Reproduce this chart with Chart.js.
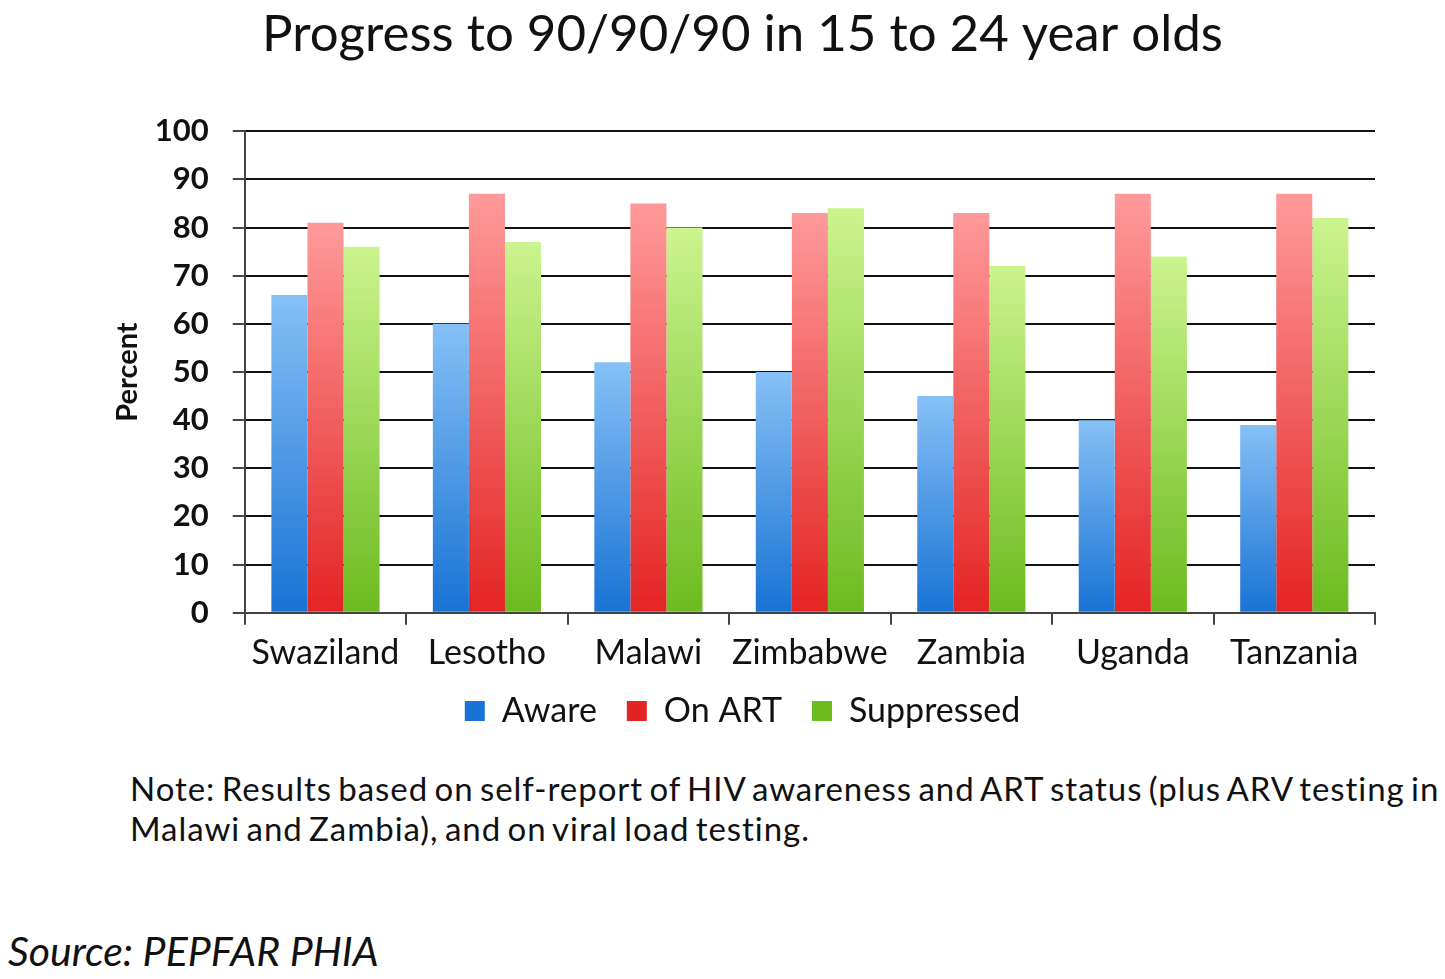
<!DOCTYPE html>
<html>
<head>
<meta charset="utf-8">
<script src="https://cdn.jsdelivr.net/npm/chart.js@4.4.1/dist/chart.umd.min.js"></script>
<style>
  html, body { margin: 0; padding: 0; background: #fff; }
  #wrap { position: relative; width: 1445px; height: 979px; overflow: hidden; font-family: Lato, "Open Sans", sans-serif; }
  #chartBox { position: absolute; left: 0; top: 0; width: 1445px; height: 755px; }
  #note { position: absolute; left: 130px; top: 768px; font-size: 33px; line-height: 40px; color: #111; white-space: nowrap; letter-spacing: 0.95px; word-spacing: -3px; }
  #source { position: absolute; left: 8px; top: 926px; font-size: 41px; font-style: italic; color: #111; }
</style>
</head>
<body>
<div id="wrap">
  <div id="chartBox"><canvas id="chart"></canvas></div>
  <div id="note">Note: Results based on self-report of HIV awareness and ART status (plus ARV testing in<br>Malawi and Zambia), and on viral load testing.</div>
  <div id="source">Source: PEPFAR PHIA</div>
</div>
<script>
document.addEventListener('DOMContentLoaded', function() {
    const countries = ['Swaziland', 'Lesotho', 'Malawi', 'Zimbabwe', 'Zambia', 'Uganda', 'Tanzania'];
    const aware = [66, 60, 52, 50, 45, 40, 39];
    const onArt = [81, 87, 85, 83, 83, 87, 87];
    const suppressed = [76, 77, 80, 84, 72, 74, 82];

    // colori gradiente (alto -> basso)
    const palette = {
        aware: ['#86c0f6', '#1873d4'],
        art: ['#ff9a9a', '#e32424'],
        supp: ['#cbf48e', '#6cbb20']
    };

    // gradiente per ogni barra, dalla cima della barra fino allo zero
    function gradient(colors) {
        return function(ctx) {
            const chart = ctx.chart;
            if (!chart.chartArea || ctx.type !== 'data') return colors[1];
            const y = chart.scales.y;
            const top = y.getPixelForValue(ctx.raw);
            const bottom = y.getPixelForValue(0);
            if (!isFinite(top) || bottom - top < 1) return colors[1];
            const g = chart.ctx.createLinearGradient(0, top, 0, bottom);
            g.addColorStop(0, colors[0]);
            g.addColorStop(1, colors[1]);
            return g;
        };
    }

    // sposta la legenda un po' più vicino alle etichette
    const legendShift = {
        id: 'legendShift',
        afterLayout(chart) {
            if (!chart.legend) return;
            chart.legend.top -= 17;
            chart.legend.bottom -= 17;
        }
    };

    const ctx = document.getElementById('chart');
    new Chart(ctx, {
        type: 'bar',
        data: {
            labels: countries,
            datasets: [
                { label: 'Aware', data: aware, backgroundColor: gradient(palette.aware) },
                { label: 'On ART', data: onArt, backgroundColor: gradient(palette.art) },
                { label: 'Suppressed', data: suppressed, backgroundColor: gradient(palette.supp) }
            ]
        },
        plugins: [legendShift],
        options: {
            responsive: true,
            maintainAspectRatio: false,
            animation: false,
            layout: { padding: { left: 110, right: 70, top: 4, bottom: 0 } },
            datasets: {
                bar: { categoryPercentage: 0.67, barPercentage: 1.0 }
            },
            plugins: {
                title: {
                    display: true,
                    text: 'Progress to 90/90/90 in 15 to 24 year olds',
                    color: '#111',
                    font: { family: 'Lato', size: 51, weight: 'normal' },
                    padding: { top: 0, bottom: 66 }
                },
                legend: {
                    position: 'bottom',
                    labels: {
                        color: '#111',
                        font: { family: 'Lato', size: 34, lineHeight: 0.8 },
                        boxWidth: 20,
                        boxHeight: 20,
                        padding: 30,
                        generateLabels: function(chart) {
                            const cols = [palette.aware, palette.art, palette.supp];
                            return chart.data.datasets.map((ds, i) => ({
                                text: ds.label,
                                fillStyle: cols[i][1],
                                strokeStyle: cols[i][1],
                                lineWidth: 0,
                                fontColor: '#111',
                                datasetIndex: i
                            }));
                        }
                    }
                },
                tooltip: { enabled: false }
            },
            scales: {
                x: {
                    grid: {
                        offset: true,
                        drawOnChartArea: false,
                        drawTicks: true,
                        tickLength: 12,
                        color: '#444',
                        lineWidth: 2
                    },
                    border: { color: '#444', width: 2 },
                    ticks: {
                        color: '#111',
                        font: { family: 'Lato', size: 34, lineHeight: 0.3 },
                        padding: 23,
                        maxRotation: 0
                    }
                },
                y: {
                    min: 0,
                    max: 100,
                    grid: {
                        color: '#111',
                        lineWidth: 2,
                        drawTicks: true,
                        tickLength: 12,
                        tickColor: '#444'
                    },
                    border: { color: '#444', width: 2 },
                    ticks: {
                        stepSize: 10,
                        color: '#111',
                        font: { family: 'Lato', size: 31, weight: 'bold' },
                        padding: 24
                    },
                    title: {
                        display: true,
                        text: 'Percent',
                        color: '#111',
                        font: { family: 'Lato', size: 29, weight: 'bold' },
                        padding: { top: 0, bottom: -14 }
                    }
                }
            }
        }
    });
});
</script>
</body>
</html>
